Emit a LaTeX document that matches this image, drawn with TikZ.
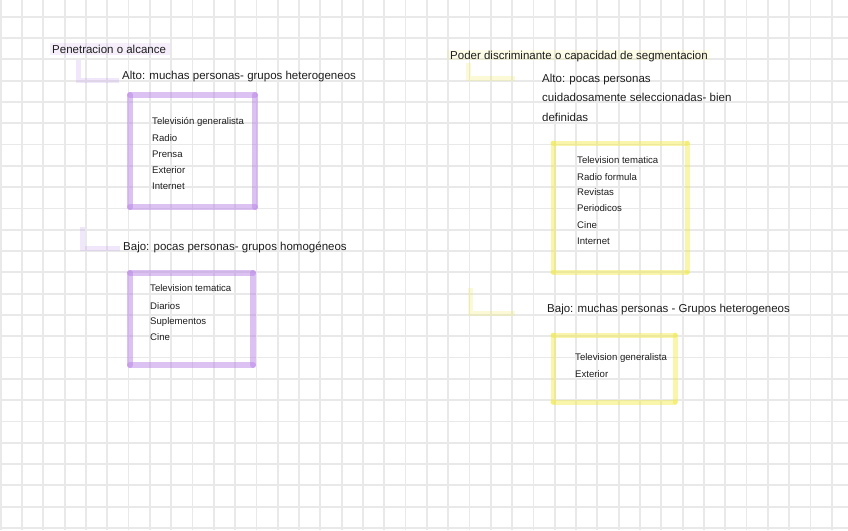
\documentclass[tikz,border=0pt]{standalone}
\usepackage{fontspec}
\setmainfont{Liberation Sans}
\definecolor{lav}{RGB}{181,125,230}
\definecolor{yel}{RGB}{241,233,53}
\definecolor{gridc}{RGB}{233,233,233}
\definecolor{ink}{RGB}{30,30,30}
\begin{document}
\begin{tikzpicture}[x=1pt,y=-1pt,
  gridline/.style={draw=gridc,line width=1.8pt},
  pbox/.style={draw=lav,draw opacity=0.47,line width=6pt,line cap=round},
  ybox/.style={draw=yel,draw opacity=0.42,line width=5pt,line cap=round},
  plink/.style={draw=lav,draw opacity=0.18,line width=5pt},
  ylink/.style={draw=yel,draw opacity=0.2,line width=5pt},
  phl/.style={fill=lav,fill opacity=0.12},
  yhl/.style={fill=yel,fill opacity=0.12},
  head/.style={anchor=base west,inner sep=0pt,text=ink,font=\fontsize{11.5}{13}\selectfont},
  item/.style={anchor=base west,inner sep=0pt,text=ink,font=\fontsize{9.6}{11}\selectfont},
]
\useasboundingbox (0,0) rectangle (848,530);
\fill[white] (0,0) rectangle (848,530);
\foreach \i in {0,...,39} \draw[gridline] ({0.7+21.31*\i},0) -- ({0.7+21.31*\i},530);
\foreach \j in {0,...,24} \draw[gridline] (0,{16.7+21.3*\j}) -- (848,{16.7+21.3*\j});

% heading highlights
\fill[phl] (50,43) rectangle (170,55);
\fill[yhl] (447,50) rectangle (710,60);

% ---------- left column ----------
\node[head] (pen) at (52,53) {Penetracion o alcance};
\node[head] (alto1) at (122,79) {Alto: muchas personas- grupos heterogeneos};
\node[head] (bajo1) at (123,250) {Bajo: pocas personas- grupos homogéneos};

\coordinate (l1) at (78,60);
\coordinate (l2) at (82,227);
\draw[plink] (l1) |- ([xshift=-3pt,yshift=-1pt]alto1.base west);
\draw[plink] (l2) |- ([xshift=-3pt,yshift=2pt]bajo1.base west);

\coordinate (b1a) at (130,95);  \coordinate (b1b) at (255,95);
\coordinate (b1c) at (255,207); \coordinate (b1d) at (130,207);
\draw[pbox] (b1a) -- (b1b); \draw[pbox] (b1b) -- (b1c);
\draw[pbox] (b1c) -- (b1d); \draw[pbox] (b1d) -- (b1a);

\node[item] (i11) at (152,124) {Televisión generalista};
\node[item] (i12) at (152,141) {Radio};
\node[item] (i13) at (152,157) {Prensa};
\node[item] (i14) at (152,173) {Exterior};
\node[item] (i15) at (152,189) {Internet};

\coordinate (b2a) at (130,273); \coordinate (b2b) at (253,273);
\coordinate (b2c) at (253,365); \coordinate (b2d) at (130,365);
\draw[pbox] (b2a) -- (b2b); \draw[pbox] (b2b) -- (b2c);
\draw[pbox] (b2c) -- (b2d); \draw[pbox] (b2d) -- (b2a);

\node[item] (i21) at (150,291) {Television tematica};
\node[item] (i22) at (150,309) {Diarios};
\node[item] (i23) at (150,324) {Suplementos};
\node[item] (i24) at (150,340) {Cine};

% ---------- right column ----------
\node[head] (poder) at (450,59) {Poder discriminante o capacidad de segmentacion};
\node[head] (alto2) at (542,82) {Alto: pocas personas};
\node[head] (alto2b) at (542,101) {cuidadosamente seleccionadas- bien};
\node[head] (alto2c) at (542,121) {definidas};
\node[head] (bajo2) at (547,312) {Bajo: muchas personas - Grupos heterogeneos};

\coordinate (l3) at (468,63);  \coordinate (l3e) at (515,78);
\coordinate (l4) at (470,288); \coordinate (l4e) at (515,313);
\draw[ylink] (l3) |- (l3e);
\draw[ylink] (l4) |- (l4e);

\coordinate (b3a) at (553,143); \coordinate (b3b) at (687,143);
\coordinate (b3c) at (687,272); \coordinate (b3d) at (553,272);
\draw[ybox] (b3a) -- (b3b); \draw[ybox] (b3b) -- (b3c);
\draw[ybox] (b3c) -- (b3d); \draw[ybox] (b3d) -- (b3a);

\node[item] (i31) at (577,163) {Television tematica};
\node[item] (i32) at (577,180) {Radio formula};
\node[item] (i33) at (577,195) {Revistas};
\node[item] (i34) at (577,211) {Periodicos};
\node[item] (i35) at (577,228) {Cine};
\node[item] (i36) at (577,244) {Internet};

\coordinate (b4a) at (553,335); \coordinate (b4b) at (675,335);
\coordinate (b4c) at (675,402); \coordinate (b4d) at (553,402);
\draw[ybox] (b4a) -- (b4b); \draw[ybox] (b4b) -- (b4c);
\draw[ybox] (b4c) -- (b4d); \draw[ybox] (b4d) -- (b4a);

\node[item] (i41) at (575,360) {Television generalista};
\node[item] (i42) at (575,377) {Exterior};
\end{tikzpicture}
\end{document}
